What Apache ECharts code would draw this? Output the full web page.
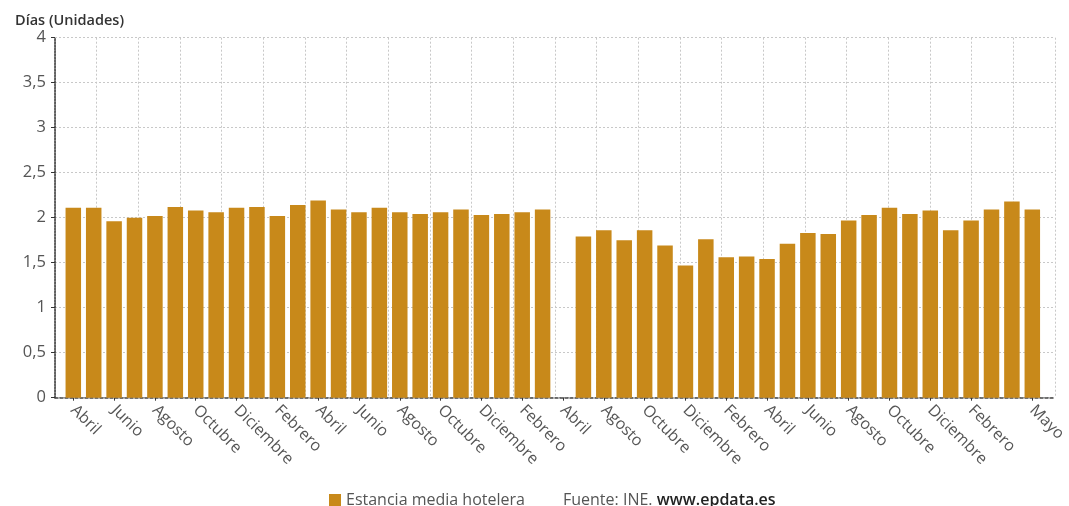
<!DOCTYPE html>
<html>
<head>
<meta charset="utf-8">
<script src="https://cdn.jsdelivr.net/npm/echarts@6/dist/echarts.min.js"></script>
<style>
html,body{margin:0;padding:0;background:#fff;}
#chart{width:1069px;height:506px;}
</style>
</head>
<body>
<div id="chart"></div>
<script>
const categories = [
  'Abril 2018','Mayo 2018','Junio 2018','Julio 2018','Agosto 2018','Septiembre 2018','Octubre 2018','Noviembre 2018','Diciembre 2018',
  'Enero 2019','Febrero 2019','Marzo 2019','Abril 2019','Mayo 2019','Junio 2019','Julio 2019','Agosto 2019','Septiembre 2019','Octubre 2019','Noviembre 2019','Diciembre 2019',
  'Enero 2020','Febrero 2020','Marzo 2020','Abril 2020','Julio 2020','Agosto 2020','Septiembre 2020','Octubre 2020','Noviembre 2020','Diciembre 2020',
  'Enero 2021','Febrero 2021','Marzo 2021','Abril 2021','Mayo 2021','Junio 2021','Julio 2021','Agosto 2021','Septiembre 2021','Octubre 2021','Noviembre 2021','Diciembre 2021',
  'Enero 2022','Febrero 2022','Marzo 2022','Abril 2022','Mayo 2022'
];
const estancia = [
  2.11,2.11,1.96,2.00,2.02,2.12,2.08,2.06,2.11,2.12,2.02,2.14,
  2.19,2.09,2.06,2.11,2.06,2.04,2.06,2.09,2.03,2.04,2.06,2.09,
  null,1.79,1.86,1.75,1.86,1.69,1.47,1.76,1.56,1.57,1.54,1.71,
  1.83,1.82,1.97,2.03,2.11,2.04,2.08,1.86,1.97,2.09,2.18,2.09
];
const yTicks = [0,0.5,1,1.5,2,2.5,3,3.5,4];
const seriesName = 'Estancia media hotelera';
const yTitle = 'Días (Unidades)';
const sourceLabel = 'Fuente: INE. ';
const sourceUrl = 'www.epdata.es';

const barColor = '#C8891A';
const font = '"Open Sans", "Noto Sans", sans-serif';
const showLabel = (i) => (i % 2 === 0 && i !== 46) || i === 47;

const chart = echarts.init(document.getElementById('chart'), null, {renderer: 'canvas'});
chart.setOption({
  animation: false,
  backgroundColor: '#fff',
  textStyle: {fontFamily: font},
  title: {
    text: yTitle, left: 10, top: 8,
    textStyle: {fontSize: 14.5, fontWeight: 600, color: '#333', fontFamily: font}
  },
  legend: {
    data: [seriesName],
    left: 324, top: 487,
    icon: 'rect', itemWidth: 12, itemHeight: 12, itemGap: 5,
    textStyle: {fontSize: 16, color: '#555', fontFamily: font}
  },
  graphic: [{
    type: 'text', left: 563, top: 492,
    style: {
      rich: {
        a: {fontSize: 16, fill: '#555', fontFamily: font},
        b: {fontSize: 16, fill: '#222', fontWeight: 600, fontFamily: font}
      },
      text: '{a|' + sourceLabel + '}{b|' + sourceUrl + '}'
    }
  }],
  grid: [
    {left: 55, top: 37.7, width: 1000, height: 360},
    {left: 63.1, top: 37.7, width: 981.8, height: 360}
  ],
  xAxis: [
    {
      type: 'value', gridIndex: 0, min: 0, max: 24, interval: 1,
      axisLabel: {show: false}, axisTick: {show: false},
      axisLine: {show: true, lineStyle: {color: '#444', width: 1.5, type: [3, 2]}},
      splitLine: {show: true, lineStyle: {color: '#c8c8c8', type: [2, 2], width: 1}}
    },
    {
      type: 'category', gridIndex: 1, data: categories, boundaryGap: true,
      axisLine: {show: false},
      axisTick: {show: true, alignWithLabel: true, interval: (i) => showLabel(i), length: 3, lineStyle: {color: '#333'}},
      axisLabel: {
        interval: (i) => showLabel(i), rotate: -45, margin: 10,
        fontSize: 16, color: '#555', fontFamily: font,
        formatter: (v) => v.split(' ')[0]
      },
      splitLine: {show: false}
    }
  ],
  yAxis: [
    {
      type: 'value', gridIndex: 0, min: yTicks[0], max: yTicks[yTicks.length - 1], interval: 0.5,
      axisLine: {show: true, lineStyle: {color: '#333', type: [2, 1], width: 1.5}},
      axisTick: {show: true, length: 4, lineStyle: {color: '#333'}},
      axisLabel: {
        fontSize: 16.5, color: '#555', margin: 9, fontFamily: font,
        formatter: (v) => String(v).replace('.', ',')
      },
      splitLine: {show: true, lineStyle: {color: '#c8c8c8', type: [2, 2], width: 1}}
    },
    {
      type: 'value', gridIndex: 1, min: 0, max: 4, interval: 0.5,
      axisLine: {show: false}, axisTick: {show: false}, axisLabel: {show: false},
      splitLine: {show: false}
    }
  ],
  series: [{
    name: seriesName, type: 'bar', xAxisIndex: 1, yAxisIndex: 1,
    data: estancia, barWidth: 15.5,
    itemStyle: {color: barColor}
  }]
});
</script>
</body>
</html>
